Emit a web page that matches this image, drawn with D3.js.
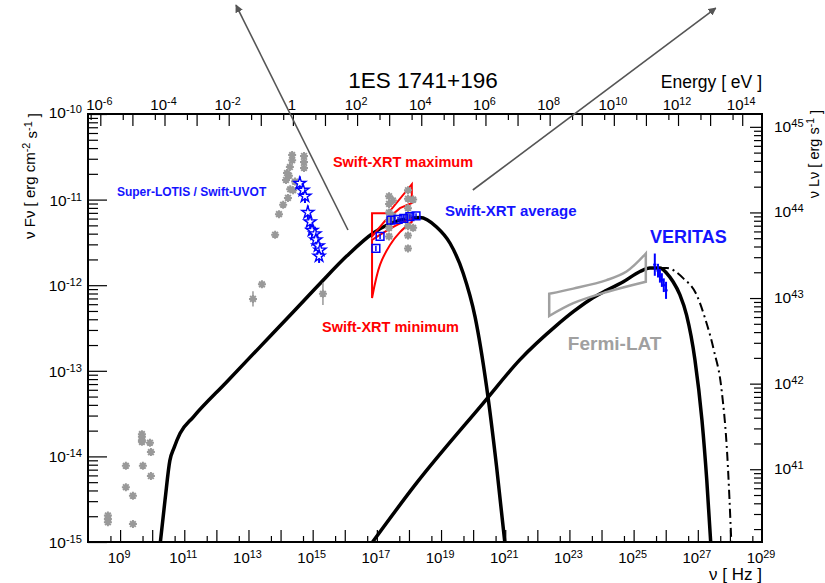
<!DOCTYPE html>
<html>
<head>
<meta charset="utf-8">
<script src="https://cdn.jsdelivr.net/npm/d3@7"></script>
<style>
  html, body { margin: 0; padding: 0; background: #fff; }
  svg { display: block; font-family: "Liberation Sans", Arial, Helvetica, sans-serif; }
</style>
</head>
<body>
<svg id="chart" width="825" height="583"></svg>
<script>
// All points are [log10 ν (Hz), log10 νFν (erg cm^-2 s^-1)]

// Synchrotron component of the SSC model
const syncModel = [
  [10.24, -15.05], [10.40, -14.51], [10.55, -14.05], [10.68, -13.90], [10.87, -13.73],
  [11.28, -13.54], [12.32, -13.13], [13.36, -12.72], [14.40, -12.31], [15.23, -11.98],
  [16.06, -11.66], [16.89, -11.39], [17.72, -11.24], [18.34, -11.21], [18.86, -11.32],
  [19.28, -11.51], [19.69, -11.86], [20.06, -12.37], [20.42, -13.19], [20.73, -14.12],
  [21.00, -15.05]
];
// Inverse-Compton component, EBL absorbed
const icModel = [
  [16.77, -15.05], [18.24, -14.31], [20.31, -13.38], [21.46, -12.87], [22.60, -12.47],
  [23.12, -12.31], [23.64, -12.17], [24.16, -12.06], [24.68, -11.96], [25.20, -11.84],
  [25.51, -11.80], [25.82, -11.80], [26.03, -11.86], [26.23, -11.96], [26.44, -12.11],
  [26.65, -12.35], [26.91, -12.87], [27.13, -13.58], [27.28, -14.28], [27.41, -15.05]
];
// Inverse-Compton component, intrinsic (dash-dot)
const icIntrinsic = [
  [25.82, -11.80], [26.03, -11.80], [26.55, -11.92], [26.96, -12.11], [27.22, -12.38],
  [27.50, -12.76], [27.74, -13.22], [27.92, -14.00], [28.05, -15.05]
];

// Archival data (grey)
const archivalRadio = [
  [8.62, -14.69], [8.62, -14.73], [8.62, -14.77], [9.18, -14.11], [9.18, -14.36],
  [9.40, -14.46], [9.40, -14.79], [9.68, -13.74], [9.68, -13.77], [9.68, -13.81],
  [9.68, -13.83], [9.93, -13.84], [9.96, -13.95], [9.71, -14.11], [9.96, -14.23]
];
const archivalOptical = [
  [13.14, -12.16], [13.42, -11.99], [13.83, -11.41], [13.95, -11.17], [14.08, -11.06],
  [14.23, -10.98], [14.39, -10.89], [14.20, -10.69], [14.29, -10.62], [14.36, -10.54],
  [14.36, -10.48], [14.17, -10.77], [14.26, -10.72], [14.45, -10.79], [14.30, -10.88],
  [14.73, -10.49], [14.73, -10.56], [14.73, -10.63], [15.32, -12.10]
];
const archivalOpticalErr = [0.09, 0, 0, 0, 0, 0, 0, 0, 0, 0, 0, 0, 0, 0, 0, 0.03, 0.03, 0.03, 0.13];
const archivalXray = [
  [17.38, -10.96], [17.38, -11.05], [17.38, -11.15], [17.38, -11.24], [17.38, -11.33],
  [17.38, -11.43], [17.50, -11.01], [17.50, -11.19], [17.97, -10.89], [17.97, -10.99],
  [17.97, -11.10], [17.97, -11.19], [17.97, -11.31], [17.97, -11.42], [17.97, -11.57],
  [18.13, -11.00], [18.13, -11.33]
];

// Super-LOTIS / Swift-UVOT (blue stars)
const uvotPoints = [
  [14.60, -10.81], [14.70, -10.89], [14.76, -10.96], [14.85, -11.15], [14.92, -11.26],
  [14.98, -11.36], [15.07, -11.40], [15.10, -11.47], [15.17, -11.54], [15.23, -11.59],
  [15.20, -11.66]
];
const uvotErr = 0.08;

// Swift-XRT average spectrum (blue squares)
const xrtAverage = [
  [16.97, -11.57], [17.10, -11.43], [17.44, -11.24], [17.66, -11.23], [17.84, -11.22],
  [18.03, -11.20], [18.22, -11.19]
];
const xrtAverageErr = [0.03, 0.03, 0.04, 0.03, 0.04, 0.03, 0.03];

// Swift-XRT bow ties: upper and lower edges
const xrtMaxUpper = [[16.85, -11.16], [17.35, -11.16], [18.09, -10.82]];
const xrtMaxLower = [[16.85, -11.43], [17.25, -11.25], [17.72, -11.10], [18.09, -11.04]];
const xrtMinUpper = [[16.85, -11.47], [17.56, -11.31], [18.09, -11.22]];
const xrtMinLower = [[16.85, -12.15], [17.10, -11.76], [17.41, -11.53], [17.72, -11.38], [18.09, -11.26]];

// Fermi-LAT bow tie
const fermiUpper = [[22.37, -12.10], [23.12, -12.04], [24.16, -11.94], [24.78, -11.84], [25.38, -11.63]];
const fermiLower = [[22.37, -12.36], [23.12, -12.21], [24.16, -12.08], [25.38, -11.96]];

// VERITAS spectrum
const veritasPoints = [[25.66, -11.76], [25.76, -11.83], [25.82, -11.89], [25.88, -11.94], [25.94, -12.00], [26.01, -12.06]];
const veritasErr = [0.13, 0.08, 0.08, 0.08, 0.08, 0.10];
const veritasBin = 0.05;

// Pointer arrows [from, to]
const arrows = [
  [[16.10, -11.355], [12.61, -8.727]],
  [[19.99, -10.888], [27.56, -8.762]]
];

// Tick labels
const nuLabelExp = [9, 11, 13, 15, 17, 19, 21, 23, 25, 27, 29];
const energyLabelExp = [-6, -4, -2, 0, 2, 4, 6, 8, 10, 12, 14];
const fluxLabelExp = [-15, -14, -13, -12, -11, -10];
const lumLabelExp = [41, 42, 43, 44, 45];

// In-plot annotations: text, anchor [log ν, log νFν] (left, baseline)
const annotations = [
  { text: "Super-LOTIS / Swift-UVOT", at: [8.90, -10.958], color: "#1414ff", size: 12 },
  { text: "Swift-XRT maximum", at: [15.63, -10.619], color: "#ff0000", size: 14.5 },
  { text: "Swift-XRT average", at: [19.12, -11.192], color: "#1414ff", size: 15 },
  { text: "Swift-XRT minimum", at: [15.29, -12.547], color: "#ff0000", size: 14.5 },
  { text: "VERITAS", at: [25.51, -11.507], color: "#1414ff", size: 18 },
  { text: "Fermi-LAT", at: [22.95, -12.757], color: "#a0a0a0", size: 19 }
];

const H_EV = 4.135667e-15;   // Planck constant, eV s
const LUM_OFFSET = 55.15;    // log10(4π d_L^2)

// ---------------- layout and scales ----------------
const svg = d3.select("#chart");
const frame = { left: 88, right: 762, top: 114, bottom: 542 };

const x = d3.scaleLog().domain([1e8, 1e29]).range([frame.left, frame.right]);
const y = d3.scaleLog().domain([1e-15, 1e-10]).range([frame.bottom, frame.top]);
const xE = d3.scaleLog().domain([H_EV * 1e8, H_EV * 1e29]).range([frame.left, frame.right]);
const yL = d3.scaleLog()
  .domain([1e-15 * Math.pow(10, LUM_OFFSET), 1e-10 * Math.pow(10, LUM_OFFSET)])
  .range([frame.bottom, frame.top]);

const px = p => x(Math.pow(10, p[0]));
const py = p => y(Math.pow(10, p[1]));

svg.append("defs").append("clipPath").attr("id", "plotClip")
  .append("rect")
  .attr("x", frame.left).attr("y", frame.top)
  .attr("width", frame.right - frame.left).attr("height", frame.bottom - frame.top);

svg.select("defs").append("marker")
  .attr("id", "arrowHead")
  .attr("viewBox", "0 0 10 10")
  .attr("refX", 9).attr("refY", 5)
  .attr("markerWidth", 8).attr("markerHeight", 8)
  .attr("markerUnits", "userSpaceOnUse")
  .attr("orient", "auto")
  .append("path").attr("d", "M0,0 L10,5 L0,10 Z").attr("fill", "#555");

// ---------------- ticks ----------------
function decades(lo, hi) { const out = []; for (let e = lo; e <= hi; e++) out.push(Math.pow(10, e)); return out; }
function multiples(lo, hi, ks, dom) {
  const out = [];
  for (let e = lo; e <= hi; e++) ks.forEach(k => { const v = k * Math.pow(10, e); if (v > dom[0] && v < dom[1]) out.push(v); });
  return out;
}

function drawTicks(axisGen, values, size, transform) {
  const g = svg.append("g").attr("transform", transform)
    .call(axisGen.tickValues(values).tickSize(size).tickSizeOuter(0).tickFormat(""));
  g.select(".domain").remove();
  g.selectAll(".tick line").attr("stroke", "#000").attr("stroke-width", 1.2);
  return g;
}

// bottom ν axis
drawTicks(d3.axisBottom(x), decades(8, 29).filter(v => v > 1e8 && v < 1e29), -12, `translate(0,${frame.bottom})`);
drawTicks(d3.axisBottom(x), multiples(8, 28, [5], x.domain()), -6, `translate(0,${frame.bottom})`);
// top energy axis
drawTicks(d3.axisTop(xE), decades(-6, 14), -12, `translate(0,${frame.top})`);
drawTicks(d3.axisTop(xE), multiples(-7, 14, [5], xE.domain()), -6, `translate(0,${frame.top})`);
// left flux axis
drawTicks(d3.axisLeft(y), decades(-15, -10), -19, `translate(${frame.left},0)`);
drawTicks(d3.axisLeft(y), multiples(-15, -11, [2, 3, 4, 5, 6, 7, 8, 9], y.domain()), -10, `translate(${frame.left},0)`);
// right luminosity axis
drawTicks(d3.axisRight(yL), decades(41, 45), -12, `translate(${frame.right},0)`);
drawTicks(d3.axisRight(yL), multiples(40, 45, [2, 3, 4, 5, 6, 7, 8, 9], yL.domain()), -8, `translate(${frame.right},0)`);

// frame
svg.append("rect")
  .attr("x", frame.left).attr("y", frame.top)
  .attr("width", frame.right - frame.left).attr("height", frame.bottom - frame.top)
  .attr("fill", "none").attr("stroke", "#000").attr("stroke-width", 2);

// ---------------- tick labels ----------------
function powerText(sel, e) {
  if (e === 0) { sel.text("1"); return; }
  sel.append("tspan").text("10");
  sel.append("tspan").attr("dy", "-0.45em").attr("font-size", "0.72em").text(e);
}

svg.append("g").selectAll("text").data(nuLabelExp).join("text")
  .attr("x", e => x(Math.pow(10, e)) - 1).attr("y", frame.bottom + 21)
  .attr("text-anchor", "middle").attr("font-size", 15)
  .each(function (e) { powerText(d3.select(this), e); });

svg.append("g").selectAll("text").data(energyLabelExp).join("text")
  .attr("x", e => xE(Math.pow(10, e)) - 1).attr("y", frame.top - 4)
  .attr("text-anchor", "middle").attr("font-size", 15)
  .each(function (e) { powerText(d3.select(this), e); });

svg.append("g").selectAll("text").data(fluxLabelExp).join("text")
  .attr("x", frame.left - 6).attr("y", e => y(Math.pow(10, e)) + (e === -10 ? 4 : 6))
  .attr("text-anchor", "end").attr("font-size", 15.5)
  .each(function (e) { powerText(d3.select(this), e); });

svg.append("g").selectAll("text").data(lumLabelExp).join("text")
  .attr("x", frame.right + 12).attr("y", e => yL(Math.pow(10, e)) + 5)
  .attr("text-anchor", "start").attr("font-size", 15.5)
  .each(function (e) { powerText(d3.select(this), e); });

// axis titles
svg.append("text").attr("x", 423).attr("y", 88).attr("text-anchor", "middle")
  .attr("font-size", 22.5).text("1ES 1741+196");
svg.append("text").attr("x", frame.right).attr("y", 88).attr("text-anchor", "end")
  .attr("font-size", 17.5).text("Energy [ eV ]");
svg.append("text").attr("x", frame.right).attr("y", 580).attr("text-anchor", "end")
  .attr("font-size", 17).text("ν [ Hz ]");

function richTitle(sel, parts) {
  parts.forEach(pt => {
    if (pt.sup) sel.append("tspan").attr("dy", "-0.45em").attr("font-size", "0.72em").text(pt.sup);
    else sel.append("tspan").attr("dy", pt.down ? "0.45em" : null).text(pt.t);
  });
}
const leftTitle = svg.append("text")
  .attr("transform", `translate(35,${frame.top - 1}) rotate(-90)`)
  .attr("text-anchor", "end").attr("font-size", 15);
richTitle(leftTitle, [{ t: "ν Fν [ erg cm" }, { sup: "-2" }, { t: " s", down: true }, { sup: "-1" }, { t: " ]", down: true }]);

const rightTitle = svg.append("text")
  .attr("transform", `translate(819,${frame.top - 4}) rotate(-90)`)
  .attr("text-anchor", "end").attr("font-size", 14.5);
richTitle(rightTitle, [{ t: "ν Lν [ erg s" }, { sup: "-1" }, { t: " ]", down: true }]);

// ---------------- plot content ----------------
const plot = svg.append("g").attr("clip-path", "url(#plotClip)");

const curveLine = d3.line().x(px).y(py).curve(d3.curveMonotoneX);

plot.append("path").attr("d", curveLine(syncModel))
  .attr("fill", "none").attr("stroke", "#000").attr("stroke-width", 3.5).attr("stroke-linejoin", "round");
plot.append("path").attr("d", curveLine(icModel))
  .attr("fill", "none").attr("stroke", "#000").attr("stroke-width", 3.5).attr("stroke-linejoin", "round");
plot.append("path").attr("d", curveLine(icIntrinsic))
  .attr("fill", "none").attr("stroke", "#000").attr("stroke-width", 2)
  .attr("stroke-dasharray", "9,4,2,4");

// bow ties
function bowtie(upper, lower, curve) {
  const lg = d3.line().x(px).y(py).curve(curve);
  const up = lg(upper);
  const low = lg(lower.slice().reverse());
  return up + "L" + low.slice(1) + "Z";
}
plot.append("path").attr("d", bowtie(fermiUpper, fermiLower, d3.curveCatmullRom))
  .attr("fill", "none").attr("stroke", "#a0a0a0").attr("stroke-width", 2.5);
plot.append("path").attr("d", bowtie(xrtMaxUpper, xrtMaxLower, d3.curveLinear))
  .attr("fill", "none").attr("stroke", "#ff0000").attr("stroke-width", 2);
plot.append("path").attr("d", bowtie(xrtMinUpper, xrtMinLower, d3.curveCatmullRom))
  .attr("fill", "none").attr("stroke", "#ff0000").attr("stroke-width", 2);

// grey archival asterisks
const asterisk8 = {
  draw(ctx, size) {
    const r = Math.sqrt(size) / 2, d = r * Math.SQRT1_2;
    ctx.moveTo(-r, 0); ctx.lineTo(r, 0);
    ctx.moveTo(0, -r); ctx.lineTo(0, r);
    ctx.moveTo(-d, -d); ctx.lineTo(d, d);
    ctx.moveTo(-d, d); ctx.lineTo(d, -d);
  }
};
const grey = "#999999";
const greyG = plot.append("g");
function errBar(g, pts, errs, color, width) {
  g.selectAll(null).data(pts.map((p, i) => [p, errs[i]])).join("line")
    .filter(d => d[1] > 0)
    .attr("x1", d => px(d[0])).attr("x2", d => px(d[0]))
    .attr("y1", d => py([d[0][0], d[0][1] + d[1]]))
    .attr("y2", d => py([d[0][0], d[0][1] - d[1]]))
    .attr("stroke", color).attr("stroke-width", width);
}
errBar(greyG, archivalOptical, archivalOpticalErr, grey, 1.5);
errBar(greyG, archivalXray, archivalXray.map(() => 0.04), grey, 1.5);
greyG.selectAll("path.ast").data(archivalRadio.concat(archivalOptical, archivalXray)).join("path")
  .attr("class", "ast")
  .attr("transform", d => `translate(${px(d)},${py(d)})`)
  .attr("d", d3.symbol(asterisk8, 64))
  .attr("fill", "none").attr("stroke", grey).attr("stroke-width", 2);

// UVOT / Super-LOTIS stars
const blue = "#0000ff";
const uvotG = plot.append("g");
errBar(uvotG, uvotPoints, uvotPoints.map(() => uvotErr), blue, 2);
uvotG.selectAll("path").data(uvotPoints).join("path")
  .attr("transform", d => `translate(${px(d)},${py(d)})`)
  .attr("d", d3.symbol(d3.symbolStar, 45))
  .attr("fill", "#fff").attr("stroke", blue).attr("stroke-width", 1.4);

// XRT average squares
const xrtG = plot.append("g");
errBar(xrtG, xrtAverage, xrtAverageErr, blue, 1.5);
xrtG.selectAll("path").data(xrtAverage).join("path")
  .attr("transform", d => `translate(${px(d)},${py(d)})`)
  .attr("d", d3.symbol(d3.symbolSquare, 60))
  .attr("fill", "none").attr("stroke", blue).attr("stroke-width", 1.5);

// VERITAS crosses
const vG = plot.append("g");
errBar(vG, veritasPoints, veritasErr, blue, 2);
vG.selectAll("line.bin").data(veritasPoints).join("line").attr("class", "bin")
  .attr("x1", d => px([d[0] - veritasBin, d[1]])).attr("x2", d => px([d[0] + veritasBin, d[1]]))
  .attr("y1", py).attr("y2", py)
  .attr("stroke", blue).attr("stroke-width", 2);

// annotations
svg.append("g").selectAll("text").data(annotations).join("text")
  .attr("x", d => px(d.at)).attr("y", d => py(d.at))
  .attr("font-weight", "bold").attr("font-size", d => d.size)
  .attr("fill", d => d.color).text(d => d.text);

// arrows
svg.append("g").selectAll("line").data(arrows).join("line")
  .attr("x1", d => px(d[0])).attr("y1", d => py(d[0]))
  .attr("x2", d => px(d[1])).attr("y2", d => py(d[1]))
  .attr("stroke", "#555").attr("stroke-width", 1.6)
  .attr("marker-end", "url(#arrowHead)");
</script>
</body>
</html>
